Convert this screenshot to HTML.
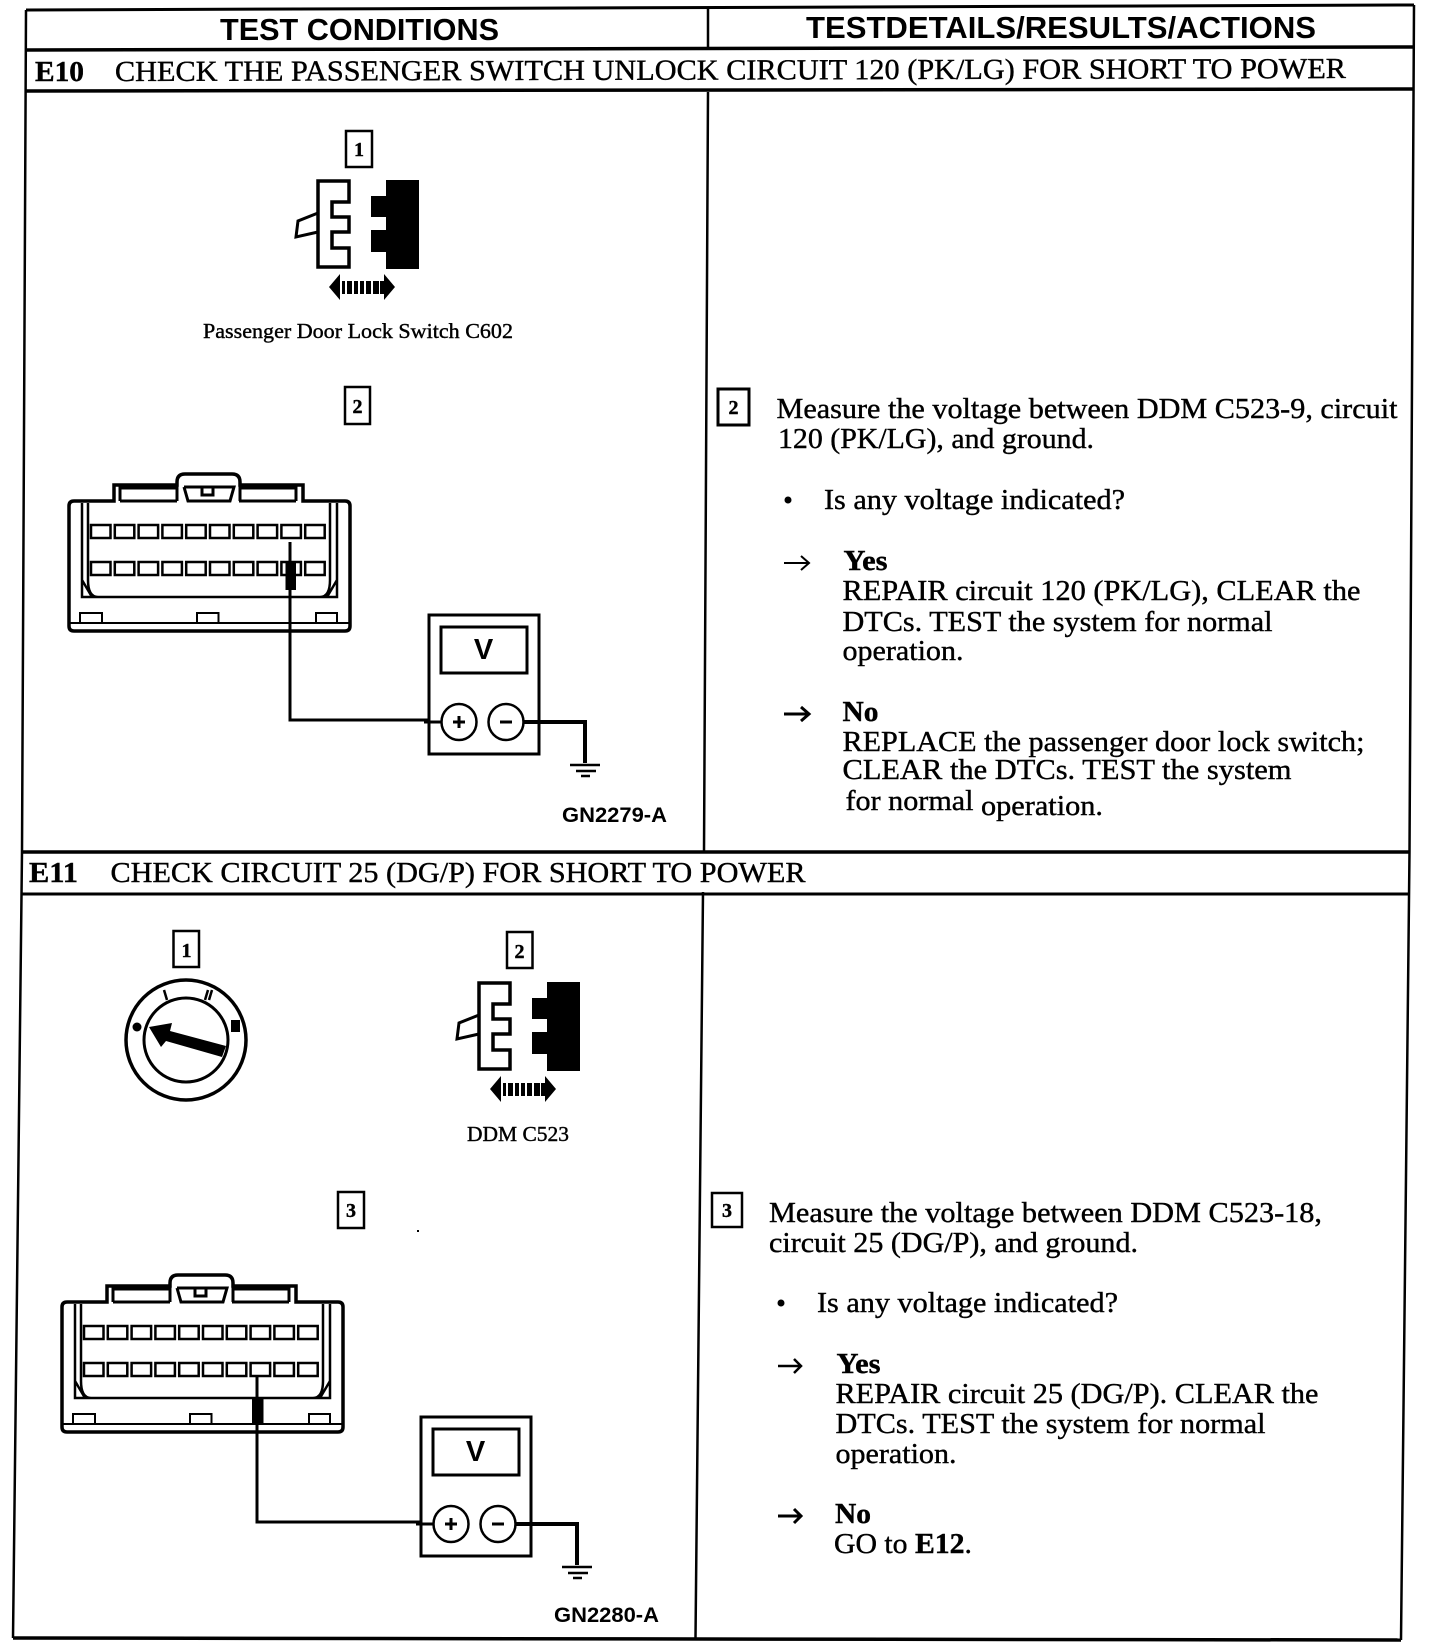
<!DOCTYPE html>
<html lang="en">
<head>
<meta charset="utf-8">
<title>E10 / E11 test conditions</title>
<style>
html,body{margin:0;padding:0;background:#fff}
svg{display:block}
.s{font-family:"Liberation Serif",serif;fill:#000;stroke:#000;stroke-width:.4}
.h{font-family:"Liberation Sans",sans-serif;font-weight:700;fill:#000}
.b{font-size:29px}
.t{font-size:29px}
.n{font-size:20px;font-weight:700;text-anchor:middle}
.l{fill:none;stroke:#000;stroke-linejoin:miter}
</style>
</head>
<body>
<svg xmlns="http://www.w3.org/2000/svg" width="1440" height="1652" viewBox="0 0 1440 1652">
<defs>
  <g id="conn" class="l" stroke-width="2">
    <path stroke-width="3.500" d="M69 506Q69 501 74 501H114V485H177V482Q177 474 185 474H232Q240 474 240 482V485H303V501H345Q350 501 350 506V626Q350 631 345 631H74Q69 631 69 626Z"/>
    <path d="M69 623H350"/>
    <path stroke-width="3" d="M120 501V488H177V501M296 501V488H240V501M120 501H177M239 501H296M184 487L188 501H230L234 487H184M202 488V495H213V488"/>
    <path stroke-width="2.500" d="M82 503V597H337V503M88 503V580Q88 597 98 597M330 503V580Q330 597 320 597M82 580L92 597M337 580L327 597"/>
    <g stroke-width="2.500">
      <rect x="91" y="525" width="19.500" height="13"/><rect x="114.800" y="525" width="19.500" height="13"/><rect x="138.600" y="525" width="19.500" height="13"/><rect x="162.400" y="525" width="19.500" height="13"/><rect x="186.200" y="525" width="19.500" height="13"/><rect x="210" y="525" width="19.500" height="13"/><rect x="233.800" y="525" width="19.500" height="13"/><rect x="257.600" y="525" width="19.500" height="13"/><rect x="281.400" y="525" width="19.500" height="13"/><rect x="305.200" y="525" width="19.500" height="13"/>
      <rect x="91" y="562" width="19.500" height="13"/><rect x="114.800" y="562" width="19.500" height="13"/><rect x="138.600" y="562" width="19.500" height="13"/><rect x="162.400" y="562" width="19.500" height="13"/><rect x="186.200" y="562" width="19.500" height="13"/><rect x="210" y="562" width="19.500" height="13"/><rect x="233.800" y="562" width="19.500" height="13"/><rect x="257.600" y="562" width="19.500" height="13"/><rect x="281.400" y="562" width="19.500" height="13"/><rect x="305.200" y="562" width="19.500" height="13"/>
    </g>
    <path d="M80 623V613H102V623M197 623V613H218.500V623M316 623V613H337V623"/>
  </g>
  <g id="meter">
    <rect class="l" stroke-width="3" x="429" y="615" width="110" height="139" fill="#fff"/>
    <rect class="l" stroke-width="3" x="441" y="627" width="86" height="46"/>
    <text class="h" x="483.500" y="659" font-size="29" text-anchor="middle">V</text>
    <path class="l" stroke-width="3" d="M424 722H441"/>
    <ellipse class="l" stroke-width="2.500" cx="459" cy="722" rx="17.500" ry="18" fill="#fff"/>
    <ellipse class="l" stroke-width="2.500" cx="506" cy="722" rx="17.500" ry="18" fill="#fff"/>
    <path class="l" stroke-width="3" d="M453 722H465M459 716V728"/>
    <path class="l" stroke-width="3" d="M500 722H512"/>
    <path class="l" stroke-width="4" d="M523 722H585V763"/>
    <path class="l" stroke-width="2.500" d="M570 765H600M576 771H596M581 776H590"/>
  </g>
  <g id="plug">
    <path class="l" stroke-width="3.500" fill="#fff" d="M318 181H349V202H332V217H349V232H332V248H349V267H318Z"/>
    <path class="l" stroke-width="3" fill="#fff" d="M318 213L298 221L296 237L318 232"/>
    <path fill="#000" d="M386 180H419V269H386V252H371V230H386V217H371V196H386Z"/>
    <path fill="#000" d="M329 287L340 274V300ZM395 287L384 274V300Z"/>
    <path fill="#000" d="M342 281H345V294H342ZM347 281H352V294H347ZM354 281H358V294H354ZM360 281H364V294H360ZM366 281H371V294H366ZM373 281H379V294H373ZM380 281H384V294H380Z"/>
  </g>
</defs>

<rect width="1440" height="1652" fill="#fff"/>

<!-- frame -->
<g class="l">
  <path stroke-width="3" d="M26 10L1414 5"/>
  <path stroke-width="3.500" d="M26 50L1414 47"/>
  <path stroke-width="3.500" d="M26 91L1414 89"/>
  <path stroke-width="3.500" d="M22 852L1410 852"/>
  <path stroke-width="3" d="M21 894L1410 894"/>
  <path stroke-width="3.500" d="M13 1638L1401 1640"/>
  <path stroke-width="2.500" d="M26 10L22 852L13 1638"/>
  <path stroke-width="2.500" d="M1414 5L1409.500 852L1401 1640"/>
  <path stroke-width="2.500" d="M708 9V50M708 92L704 852M703 892L695.500 1638"/>
</g>

<!-- headers -->
<text class="h" x="220" y="40" font-size="31" textLength="279" lengthAdjust="spacingAndGlyphs">TEST CONDITIONS</text>
<text class="h" x="806" y="38" font-size="31" textLength="510" lengthAdjust="spacingAndGlyphs">TESTDETAILS/RESULTS/ACTIONS</text>
<text class="s t" x="35" y="81" font-weight="700" textLength="49" lengthAdjust="spacingAndGlyphs">E10</text>
<text class="s t" x="115" y="81" transform="rotate(-.14 115 81)" textLength="1231" lengthAdjust="spacingAndGlyphs">CHECK THE PASSENGER SWITCH UNLOCK CIRCUIT 120 (PK/LG) FOR SHORT TO POWER</text>
<text class="s t" x="29" y="882" font-weight="700" textLength="49" lengthAdjust="spacingAndGlyphs">E11</text>
<text class="s t" x="110.500" y="882" textLength="695" lengthAdjust="spacingAndGlyphs">CHECK CIRCUIT 25 (DG/P) FOR SHORT TO POWER</text>

<!-- E10 left -->
<rect class="l" stroke-width="2.500" x="346" y="131" width="26" height="36"/>
<text class="s n" x="359" y="156" font-weight="400">1</text>
<use href="#plug"/>
<text class="s" x="203" y="338" font-size="21" textLength="310" lengthAdjust="spacingAndGlyphs">Passenger Door Lock Switch C602</text>
<rect class="l" stroke-width="2.500" x="345" y="387" width="25" height="37"/>
<text class="s n" x="357.500" y="413">2</text>

<use href="#conn"/>
<path class="l" stroke-width="3" d="M290 542V720H428"/>
<rect x="285.500" y="562" width="10.500" height="28" fill="#000"/>
<use href="#meter"/>
<text class="h" x="562" y="822" font-size="21" textLength="105" lengthAdjust="spacingAndGlyphs">GN2279-A</text>

<!-- E10 right -->
<rect class="l" stroke-width="3" x="718" y="389" width="31" height="36"/>
<text class="s n" x="733.500" y="414">2</text>
<g class="s b">
  <text x="776.500" y="418" textLength="621" lengthAdjust="spacingAndGlyphs">Measure the voltage between DDM C523-9, circuit</text>
  <text x="778" y="448" textLength="316" lengthAdjust="spacingAndGlyphs">120 (PK/LG), and ground.</text>
  <text x="824" y="509" textLength="301" lengthAdjust="spacingAndGlyphs">Is any voltage indicated?</text>
  <text x="843.500" y="570" font-weight="700" textLength="44" lengthAdjust="spacingAndGlyphs">Yes</text>
  <text x="842.500" y="600" textLength="518" lengthAdjust="spacingAndGlyphs">REPAIR circuit 120 (PK/LG), CLEAR the</text>
  <text x="842.500" y="631" textLength="430" lengthAdjust="spacingAndGlyphs">DTCs. TEST the system for normal</text>
  <text x="842.500" y="660" textLength="121" lengthAdjust="spacingAndGlyphs">operation.</text>
  <text x="842.500" y="721" font-weight="700" textLength="36" lengthAdjust="spacingAndGlyphs">No</text>
  <text x="842.500" y="751" textLength="522" lengthAdjust="spacingAndGlyphs">REPLACE the passenger door lock switch;</text>
  <text x="842.500" y="779" textLength="449" lengthAdjust="spacingAndGlyphs">CLEAR the DTCs. TEST the system</text>
  <text x="845.500" y="810" textLength="128" lengthAdjust="spacingAndGlyphs">for normal</text>
  <text x="981" y="815" textLength="122" lengthAdjust="spacingAndGlyphs">operation.</text>
</g>
<circle cx="788" cy="500" r="3.500" fill="#000"/>
<path class="l" stroke-width="2" d="M784 563H808M801 556L809 563L801 570"/>
<path class="l" stroke-width="3" d="M784 714H808M801 707L809 714L801 721"/>

<!-- E11 left -->
<rect class="l" stroke-width="2.500" x="173.500" y="931" width="25.500" height="36"/>
<text class="s n" x="186.500" y="957" font-weight="400">1</text>
<rect class="l" stroke-width="2.500" x="507" y="932" width="25.500" height="36"/>
<text class="s n" x="519.500" y="958">2</text>

<ellipse class="l" stroke-width="3.500" cx="186" cy="1040" rx="60" ry="60"/>
<ellipse class="l" stroke-width="3" cx="186" cy="1040" rx="42" ry="42"/>
<path fill="#000" d="M149 1027L172 1023L170 1031L226 1046L222 1057L166 1041L161 1047Z"/>
<path class="l" stroke-width="2.500" d="M164 990L167 1000"/>
<path class="l" stroke-width="2.500" d="M205 1000L208 990M209 1000L212 990"/>
<circle cx="137" cy="1027" r="4.500" fill="#000"/>
<rect x="231" y="1020" width="9" height="12" fill="#000"/>

<g transform="translate(161 802)"><use href="#plug"/></g>
<text class="s" x="467" y="1141" font-size="21" textLength="102" lengthAdjust="spacingAndGlyphs">DDM C523</text>

<rect class="l" stroke-width="2.500" x="338" y="1192" width="26" height="36"/>
<text class="s n" x="351" y="1217">3</text>
<rect x="417" y="1230" width="2" height="2" fill="#000"/>

<g transform="translate(-7 801)"><use href="#conn"/></g>
<path class="l" stroke-width="3" d="M257 1377V1522H420"/>
<rect x="252" y="1397" width="11.500" height="28" fill="#000"/>
<g transform="translate(-8 802)"><use href="#meter"/></g>
<text class="h" x="554" y="1622" font-size="21" textLength="105" lengthAdjust="spacingAndGlyphs">GN2280-A</text>

<!-- E11 right -->
<rect class="l" stroke-width="2.500" x="712" y="1193" width="30" height="34"/>
<text class="s n" x="727" y="1217">3</text>
<g class="s b">
  <text x="769" y="1222" textLength="553" lengthAdjust="spacingAndGlyphs">Measure the voltage between DDM C523-18,</text>
  <text x="769" y="1252" textLength="369" lengthAdjust="spacingAndGlyphs">circuit 25 (DG/P), and ground.</text>
  <text x="817" y="1312" textLength="301" lengthAdjust="spacingAndGlyphs">Is any voltage indicated?</text>
  <text x="836.500" y="1373" font-weight="700" textLength="44" lengthAdjust="spacingAndGlyphs">Yes</text>
  <text x="835.500" y="1403" textLength="483" lengthAdjust="spacingAndGlyphs">REPAIR circuit 25 (DG/P). CLEAR the</text>
  <text x="835.500" y="1433" textLength="430" lengthAdjust="spacingAndGlyphs">DTCs. TEST the system for normal</text>
  <text x="835.500" y="1463" textLength="121" lengthAdjust="spacingAndGlyphs">operation.</text>
  <text x="835" y="1523" font-weight="700" textLength="36" lengthAdjust="spacingAndGlyphs">No</text>
  <text x="834" y="1553" textLength="138" lengthAdjust="spacingAndGlyphs">GO to <tspan font-weight="700">E12</tspan>.</text>
</g>
<circle cx="781" cy="1303" r="3.500" fill="#000"/>
<path class="l" stroke-width="2.500" d="M778 1366H800M794 1359L801 1366L794 1373"/>
<path class="l" stroke-width="3" d="M778 1516H800M794 1509L801 1516L794 1523"/>
</svg>
</body>
</html>
